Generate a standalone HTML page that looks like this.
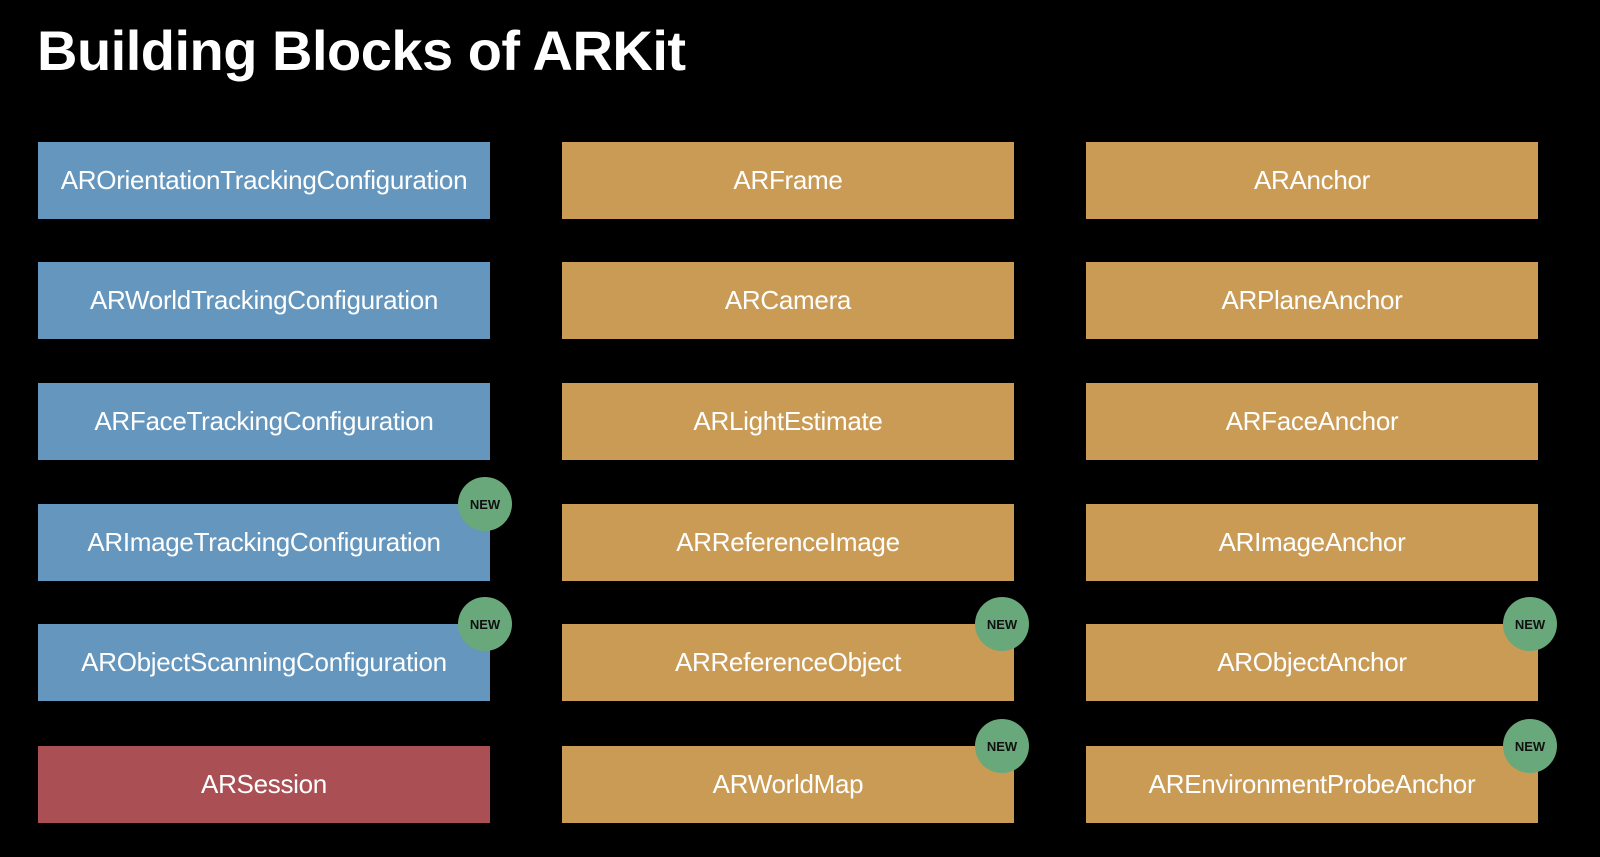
<!DOCTYPE html>
<html><head><style>
body{margin:0;width:1600px;height:857px;background:#000;position:relative;overflow:hidden;font-family:"Liberation Sans",sans-serif}
h1{position:absolute;left:37px;top:18px;margin:0;font-size:56px;font-weight:bold;color:#fff;letter-spacing:-0.5px}
.b{position:absolute;width:452px;height:77px;display:flex;align-items:center;justify-content:center;color:#fff;font-size:26px;letter-spacing:-0.3px}
.bl{background:#6496BE}.t{background:#C99B55}.r{background:#AA5055}
.n{position:absolute;width:54px;height:54px;border-radius:50%;background:#68A87A;color:#111;font-size:13px;font-weight:bold;display:flex;align-items:center;justify-content:center}
</style></head><body>
<h1>Building Blocks of ARKit</h1>
<div class="b bl" style="left:38px;top:142px">AROrientationTrackingConfiguration</div>
<div class="b bl" style="left:38px;top:262px">ARWorldTrackingConfiguration</div>
<div class="b bl" style="left:38px;top:383px">ARFaceTrackingConfiguration</div>
<div class="b bl" style="left:38px;top:504px">ARImageTrackingConfiguration</div>
<div class="b bl" style="left:38px;top:624px">ARObjectScanningConfiguration</div>
<div class="b r" style="left:38px;top:746px">ARSession</div>
<div class="b t" style="left:562px;top:142px">ARFrame</div>
<div class="b t" style="left:562px;top:262px">ARCamera</div>
<div class="b t" style="left:562px;top:383px">ARLightEstimate</div>
<div class="b t" style="left:562px;top:504px">ARReferenceImage</div>
<div class="b t" style="left:562px;top:624px">ARReferenceObject</div>
<div class="b t" style="left:562px;top:746px">ARWorldMap</div>
<div class="b t" style="left:1086px;top:142px">ARAnchor</div>
<div class="b t" style="left:1086px;top:262px">ARPlaneAnchor</div>
<div class="b t" style="left:1086px;top:383px">ARFaceAnchor</div>
<div class="b t" style="left:1086px;top:504px">ARImageAnchor</div>
<div class="b t" style="left:1086px;top:624px">ARObjectAnchor</div>
<div class="b t" style="left:1086px;top:746px">AREnvironmentProbeAnchor</div>
<div class="n" style="left:458px;top:477px">NEW</div>
<div class="n" style="left:458px;top:597px">NEW</div>
<div class="n" style="left:975px;top:597px">NEW</div>
<div class="n" style="left:975px;top:719px">NEW</div>
<div class="n" style="left:1503px;top:597px">NEW</div>
<div class="n" style="left:1503px;top:719px">NEW</div>
</body></html>
